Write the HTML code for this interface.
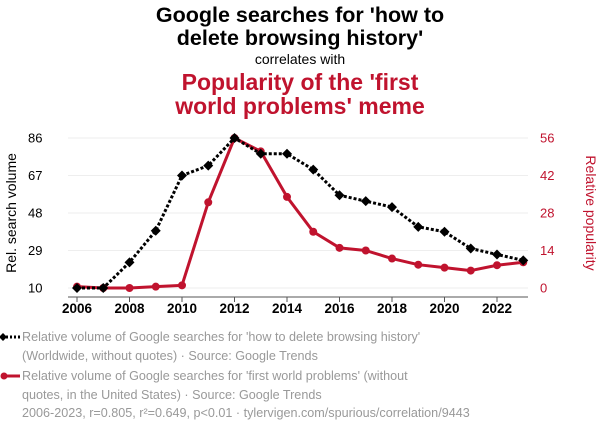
<!DOCTYPE html>
<html><head><meta charset="utf-8"><style>
html,body{margin:0;padding:0;background:#fff;width:600px;height:436px;overflow:hidden}
svg{display:block;font-family:"Liberation Sans",sans-serif}
.leg{position:absolute;left:22px;font:12.6px/19px "Liberation Sans",sans-serif;color:#999;white-space:nowrap}
</style></head><body>
<div style="position:relative;width:600px;height:436px">
<svg id="c" width="600" height="436">
<text x="300" y="22" text-anchor="middle" font-size="21.5" font-weight="bold" fill="#000">Google searches for 'how to</text>
<text x="300" y="45" text-anchor="middle" font-size="21.5" font-weight="bold" fill="#000">delete browsing history'</text>
<text x="300" y="64" text-anchor="middle" font-size="14" fill="#000">correlates with</text>
<text x="300" y="90" text-anchor="middle" font-size="23" font-weight="bold" fill="#c0132e">Popularity of the 'first</text>
<text x="300" y="114" text-anchor="middle" font-size="23" font-weight="bold" fill="#c0132e">world problems' meme</text>
<text transform="translate(16,213) rotate(-90)" text-anchor="middle" font-size="14" fill="#000">Rel. search volume</text>
<text transform="translate(586,213) rotate(90)" text-anchor="middle" font-size="14" fill="#c0132e">Relative popularity</text>
<g id="plot"></g>
</svg>
<div class="leg" style="top:328px">Relative volume of Google searches for 'how to delete browsing history'<br>(Worldwide, without quotes) · Source: Google Trends</div>
<div class="leg" style="top:367px">Relative volume of Google searches for 'first world problems' (without<br>quotes, in the United States) · Source: Google Trends</div>
<div class="leg" style="top:404px">2006-2023, r=0.805, r²=0.649, p&lt;0.01 · tylervigen.com/spurious/correlation/9443</div>
<svg style="position:absolute;left:0;top:328px" width="22" height="60">
<line x1="2" y1="9" x2="20" y2="9" stroke="#000" stroke-width="3" stroke-dasharray="2,2"/><path d="M3,5 L7,9 L3,13 L-1,9Z" fill="#000"/>
<line x1="4" y1="48" x2="20" y2="48" stroke="#c0132e" stroke-width="3"/><circle cx="4" cy="48" r="3.5" fill="#c0132e"/>
</svg>
</div>
<script>
const years=[2006,2007,2008,2009,2010,2011,2012,2013,2014,2015,2016,2017,2018,2019,2020,2021,2022,2023];
const browsing=[10,10,23,39,67,72,86,78,78,70,57,54,51,41,38.5,30,27,24];
const fwp=[0.5,0,0,0.5,1,32,56,51,34,21,15,14,11,8.7,7.6,6.5,8.5,9.6];
const leftTicks=[10,29,48,67,86];
const rightTicks=[0,14,28,42,56];
const xTicks=[2006,2008,2010,2012,2014,2016,2018,2020,2022];
const NS="http://www.w3.org/2000/svg";
const g=document.getElementById('plot');
const x=v=>77+(v-2006)*26.25;
const yL=v=>288-(v-10)*150/76;
const yR=v=>288-v*150/56;
function mk(t,a){const e=document.createElementNS(NS,t);for(const k in a)e.setAttribute(k,a[k]);g.appendChild(e);return e;}
leftTicks.forEach((t,i)=>{
 const gl=mk('line',{x1:68,x2:528,y1:yL(t),y2:yL(t),stroke:'#eee','stroke-width':1});
 
 
 const l=mk('text',{x:28,y:yL(t)+4.5,'font-size':13,fill:'#000'});l.textContent=t;
 
 
 const r=mk('text',{x:540,y:yR(rightTicks[i])+4.5,'font-size':13,fill:'#c0132e'});r.textContent=rightTicks[i];
 
 
});
const ax=mk('line',{x1:68,x2:528,y1:297,y2:297,stroke:'#555','stroke-width':1});


xTicks.forEach(t=>{
 mk('line',{x1:x(t),x2:x(t),y1:297,y2:302,stroke:'#555'});
 const l=mk('text',{x:x(t),y:313,'text-anchor':'middle','font-size':13.5,'font-weight':'bold',fill:'#000'});l.textContent=t;
 
 
});
const rl=mk('polyline',{points:years.map((y,i)=>x(y)+','+yR(fwp[i])).join(' '),fill:'none',stroke:'#c0132e','stroke-width':3,'stroke-linejoin':'round'});


years.forEach((y,i)=>{const c=mk('circle',{cx:x(y),cy:yR(fwp[i]),r:4,fill:'#c0132e'});
 
 });
const bl=mk('polyline',{points:years.map((y,i)=>x(y)+','+yL(browsing[i])).join(' '),fill:'none',stroke:'#000','stroke-width':3,'stroke-dasharray':'3,2'});


years.forEach((y,i)=>{const cx=x(y),cy=yL(browsing[i]);
 const d=mk('path',{d:`M${cx},${cy-5}L${cx+5},${cy}L${cx},${cy+5}L${cx-5},${cy}Z`,fill:'#000'});
 
 });
</script>
</body></html>
